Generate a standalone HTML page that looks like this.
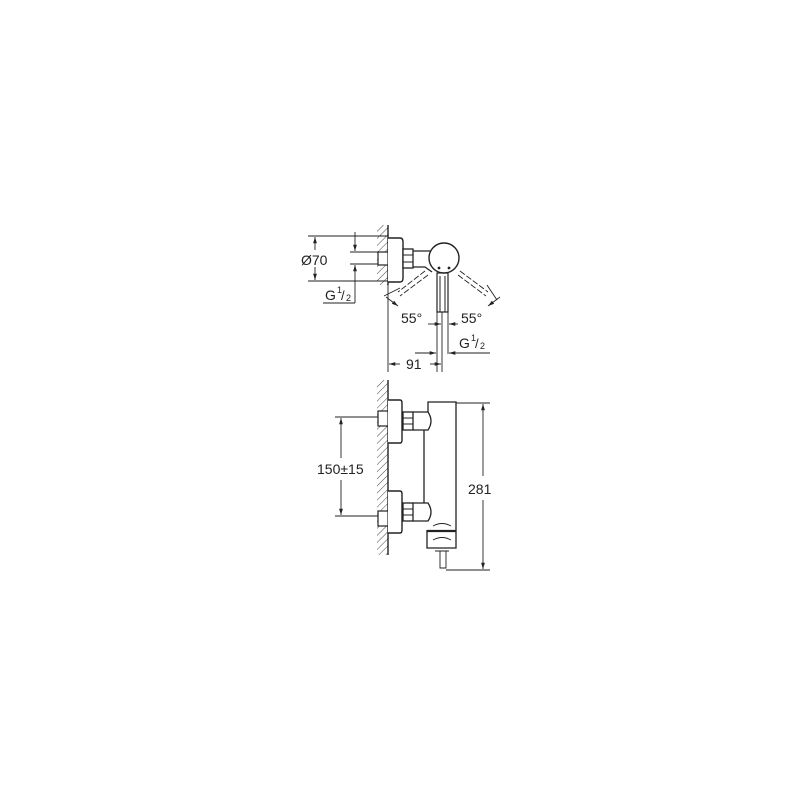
<!DOCTYPE html>
<html><head><meta charset="utf-8"><style>html,body{margin:0;padding:0;background:#fff}svg{display:block}</style></head>
<body>
<svg width="800" height="800" viewBox="0 0 800 800" xmlns="http://www.w3.org/2000/svg" font-family="Liberation Sans, sans-serif" fill="none" stroke="#222" stroke-width="1">
<defs>
<pattern id="h" width="5" height="5" patternUnits="userSpaceOnUse" patternTransform="rotate(45)"><line x1="0" y1="0" x2="0" y2="5" stroke="#333" stroke-width="0.9"/></pattern>
<marker id="a" viewBox="0 0 10 10" refX="10" refY="5" markerWidth="7" markerHeight="7" orient="auto-start-reverse"><path d="M0,2 L10,5 L0,8z" fill="#222" stroke="none"/></marker>
</defs>
<!-- TOP VIEW -->
<rect x="377" y="225" width="11" height="60" fill="url(#h)" stroke="none"/>
<line x1="388" y1="225" x2="388" y2="285" stroke-width="1.4"/>
<rect x="378" y="252" width="10" height="13" fill="#fff" stroke-width="1.2"/>
<path d="M388,238 H400 Q403,238 403,242 V278 Q403,282 400,282 H388" fill="#fff" stroke-width="1.4"/>
<rect x="403" y="249" width="10" height="19" fill="#fff" stroke-width="1.3"/>
<line x1="403" y1="255" x2="413" y2="255"/><line x1="403" y1="262" x2="413" y2="262"/>
<path d="M413,251 H435 M413,267 H425 L432,272" stroke-width="1.3"/>
<rect x="437" y="273" width="11" height="39" fill="#fff" stroke-width="1.2"/>
<line x1="440" y1="276" x2="440" y2="312"/><line x1="445" y1="276" x2="445" y2="312"/>
<circle cx="444" cy="258" r="15" fill="#fff" stroke-width="1.4"/>
<circle cx="439" cy="268" r="0.9" fill="#222"/><circle cx="449" cy="268" r="0.9" fill="#222"/>
<g stroke-dasharray="6,2" stroke-width="0.9">
<line x1="425" y1="271" x2="398" y2="292"/><line x1="428" y1="275" x2="400" y2="296"/>
<line x1="460" y1="271" x2="488" y2="292"/><line x1="458" y1="275" x2="486" y2="296"/>
</g>
<line x1="384" y1="296" x2="400" y2="288" stroke-width="0.9"/><line x1="487" y1="285" x2="497" y2="300" stroke-width="0.9"/>
<line x1="386" y1="297" x2="398" y2="306" marker-end="url(#a)" stroke-width="0.9"/>
<line x1="500" y1="297" x2="488" y2="306" marker-end="url(#a)" stroke-width="0.9"/>
<!-- dimensions -->
<line x1="308" y1="236" x2="388" y2="236" stroke-width="0.9"/><line x1="308" y1="281" x2="388" y2="281" stroke-width="0.9"/>
<line x1="315" y1="250" x2="315" y2="237" marker-end="url(#a)" stroke-width="0.9"/>
<line x1="315" y1="267" x2="315" y2="280" marker-end="url(#a)" stroke-width="0.9"/>
<line x1="350" y1="252" x2="378" y2="252" stroke-width="0.9"/><line x1="350" y1="264" x2="378" y2="264" stroke-width="0.9"/>
<line x1="355" y1="232" x2="355" y2="251" marker-end="url(#a)" stroke-width="0.9"/>
<line x1="355" y1="303" x2="355" y2="265" marker-end="url(#a)" stroke-width="0.9"/>
<line x1="323" y1="303" x2="355" y2="303" stroke-width="0.9"/>
<text x="301" y="265" font-size="14" fill="#222" stroke="none">Ø70</text>
<text x="325" y="300" font-size="14" fill="#222" stroke="none">G</text><text x="337" y="293" font-size="9" fill="#222" stroke="none">1</text><text x="341" y="300" font-size="13" fill="#222" stroke="none">/</text><text x="346" y="301" font-size="9" fill="#222" stroke="none">2</text>
<text x="401" y="323" font-size="14" fill="#222" stroke="none">55°</text>
<text x="461" y="323" font-size="14" fill="#222" stroke="none">55°</text>
<line x1="388" y1="285" x2="388" y2="372" stroke-width="0.9"/>
<line x1="437" y1="312" x2="437" y2="372" stroke-width="0.9"/><line x1="442" y1="312" x2="442" y2="372" stroke-width="0.9"/><line x1="448" y1="312" x2="448" y2="354" stroke-width="0.9"/>
<line x1="428" y1="324" x2="441" y2="324" marker-end="url(#a)" stroke-width="0.9"/><line x1="458" y1="324" x2="449" y2="324" marker-end="url(#a)" stroke-width="0.9"/>
<line x1="415" y1="353" x2="436" y2="353" marker-end="url(#a)" stroke-width="0.9"/><line x1="490" y1="353" x2="449" y2="353" marker-end="url(#a)" stroke-width="0.9"/>
<text x="459" y="348" font-size="14" fill="#222" stroke="none">G</text><text x="471" y="341" font-size="9" fill="#222" stroke="none">1</text><text x="475" y="348" font-size="13" fill="#222" stroke="none">/</text><text x="480" y="349" font-size="9" fill="#222" stroke="none">2</text>
<line x1="400" y1="364" x2="389" y2="364" marker-end="url(#a)" stroke-width="0.9"/><line x1="430" y1="364" x2="441" y2="364" marker-end="url(#a)" stroke-width="0.9"/>
<text x="406" y="369" font-size="14" fill="#222" stroke="none">91</text>
<!-- FRONT VIEW -->
<rect x="377" y="380" width="11" height="175" fill="url(#h)" stroke="none"/>
<line x1="388" y1="380" x2="388" y2="555" stroke-width="1.4"/>
<rect x="378" y="411" width="10" height="15" fill="#fff" stroke-width="1.2"/><rect x="378" y="511" width="10" height="15" fill="#fff" stroke-width="1.2"/>
<path d="M388,400 H400 Q402,400 402,403 V440 Q402,443 400,443 H388" fill="#fff" stroke-width="1.4"/>
<path d="M388,491 H400 Q402,491 402,494 V530 Q402,533 400,533 H388" fill="#fff" stroke-width="1.4"/>
<rect x="403" y="412" width="10" height="18" fill="#fff" stroke-width="1.3"/><rect x="403" y="503" width="10" height="18" fill="#fff" stroke-width="1.3"/>
<line x1="403" y1="418" x2="413" y2="418"/><line x1="403" y1="424" x2="413" y2="424"/>
<line x1="403" y1="509" x2="413" y2="509"/><line x1="403" y1="515" x2="413" y2="515"/>
<path d="M413,412 H428 Q434,421 428,430 H413" stroke-width="1.3"/>
<path d="M413,503 H428 Q434,512 428,521 H413" stroke-width="1.3"/>
<path d="M428,412 V402 H456 V548 H427 V530 M424,430 V503" stroke-width="1.3"/>
<line x1="427" y1="531" x2="456" y2="531" stroke-width="2.2"/>
<path d="M433,526 Q442,521 451,526 M433,540 Q442,535 451,540" stroke-width="0.9"/>
<path d="M435,551 H449 M440,551 V568 H446 V551" stroke-width="0.9"/>
<line x1="335" y1="417" x2="378" y2="417" stroke-width="0.9"/><line x1="335" y1="516" x2="378" y2="516" stroke-width="0.9"/>
<line x1="341" y1="458" x2="341" y2="418" marker-end="url(#a)" stroke-width="0.9"/>
<line x1="341" y1="480" x2="341" y2="515" marker-end="url(#a)" stroke-width="0.9"/>
<text x="317" y="474" font-size="14" fill="#222" stroke="none">150±15</text>
<line x1="456" y1="403" x2="490" y2="403" stroke-width="0.9"/><line x1="446" y1="570" x2="490" y2="570" stroke-width="0.9"/>
<line x1="483" y1="476" x2="483" y2="404" marker-end="url(#a)" stroke-width="0.9"/>
<line x1="483" y1="500" x2="483" y2="569" marker-end="url(#a)" stroke-width="0.9"/>
<text x="468" y="494" font-size="14" fill="#222" stroke="none">281</text>
</svg>
</body></html>
